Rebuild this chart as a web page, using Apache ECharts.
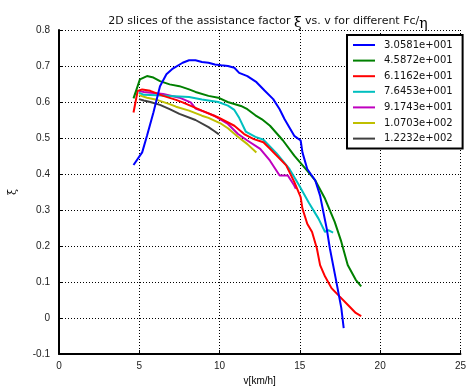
<!DOCTYPE html>
<html>
<head>
<meta charset="utf-8">
<script src="https://cdn.jsdelivr.net/npm/echarts@6/dist/echarts.min.js"></script>
<style>html,body{margin:0;padding:0;background:#fff;}#c{width:469px;height:391px;}</style>
</head>
<body>
<div id="c"></div>
<script>
var legendNames = ['3.0581e+001','4.5872e+001','6.1162e+001','7.6453e+001','9.1743e+001','1.0703e+002','1.2232e+002'];
var colors = ['#0000ff','#008000','#ff0000','#00bfbf','#bf00bf','#bfbf00','#404040'];
var xTicks = [0,5,10,15,20,25];
var yTicks = [-0.1,0,0.1,0.2,0.3,0.4,0.5,0.6,0.7,0.8];

var s1 = [[4.64,0.425],[5.18,0.46],[5.48,0.506],[5.88,0.571],[6.29,0.644],[6.69,0.677],[7.09,0.693],[7.7,0.709],[8.1,0.716],[8.5,0.716],[8.9,0.711],[9.31,0.709],[9.71,0.704],[10.1,0.702],[10.52,0.70],[10.92,0.695],[11.22,0.681],[11.73,0.672],[12.3,0.655],[12.8,0.632],[13.34,0.608],[13.74,0.58],[14.05,0.552],[14.65,0.506],[15.05,0.493],[15.16,0.46],[15.46,0.414],[15.96,0.382],[16.26,0.34],[16.46,0.295],[16.67,0.249],[16.87,0.193],[17.27,0.101],[17.58,0.028],[17.73,-0.028]];
var s2 = [[4.64,0.61],[5.04,0.663],[5.48,0.672],[5.88,0.668],[6.29,0.658],[6.89,0.649],[7.5,0.644],[8.1,0.635],[8.5,0.628],[9.31,0.617],[9.92,0.612],[10.5,0.60],[11.33,0.589],[11.73,0.58],[12.23,0.563],[12.64,0.552],[13.14,0.534],[13.95,0.493],[14.65,0.451],[15.36,0.414],[15.96,0.382],[16.57,0.331],[17.17,0.267],[17.58,0.212],[17.98,0.147],[18.48,0.106],[18.82,0.088]];
var s3 = [[4.64,0.571],[4.9,0.631],[5.18,0.635],[5.68,0.631],[6.49,0.617],[7.29,0.606],[7.7,0.599],[8.9,0.576],[9.92,0.557],[10.92,0.534],[11.53,0.511],[12.13,0.497],[12.73,0.488],[13.14,0.47],[14.15,0.424],[14.65,0.378],[15.05,0.336],[15.16,0.304],[15.46,0.262],[15.76,0.239],[16.06,0.193],[16.26,0.147],[16.57,0.115],[16.97,0.083],[17.47,0.06],[17.98,0.037],[18.48,0.014],[18.82,0.005]];
var s4 = [[4.98,0.626],[5.28,0.62],[6.09,0.619],[6.89,0.617],[8.1,0.614],[8.9,0.607],[9.92,0.6],[10.52,0.59],[10.92,0.578],[11.22,0.556],[11.63,0.518],[12.23,0.503],[12.73,0.495],[13.54,0.458],[14.35,0.414],[14.96,0.368],[15.56,0.32],[16.16,0.276],[16.57,0.239],[16.77,0.244],[17.07,0.237]];
var s5 = [[4.98,0.631],[5.28,0.628],[6.49,0.622],[7.5,0.612],[8.2,0.599],[8.5,0.582],[9.11,0.572],[9.71,0.561],[10.52,0.539],[11.15,0.511],[11.73,0.493],[12.53,0.47],[13.14,0.437],[13.74,0.396],[14.25,0.396],[14.65,0.368],[14.75,0.359]];
var s6 = [[4.98,0.619],[5.48,0.612],[6.09,0.606],[6.89,0.594],[7.29,0.587],[8.1,0.576],[8.9,0.562],[9.31,0.556],[10.12,0.539],[10.52,0.527],[11.12,0.504],[11.73,0.483],[12.29,0.46]];
var s7 = [[4.98,0.608],[5.28,0.604],[5.68,0.60],[6.29,0.592],[6.89,0.58],[7.5,0.567],[8.5,0.55],[9.31,0.53],[9.71,0.518],[9.96,0.51]];
var seriesData = [s1,s2,s3,s4,s5,s6,s7];

var FONT = 'Liberation Sans, Arial, sans-serif';
var WIDE = 'DejaVu Sans, sans-serif';
var chart = echarts.init(document.getElementById('c'), null, {renderer:'canvas'});
var series = seriesData.map(function(d,i){
  return {
    name: legendNames[i], type:'line', data:d, showSymbol:false, symbol:'none',
    lineStyle:{color:colors[i], width:2}, itemStyle:{color:colors[i]},
    animation:false, z: 10 - i
  };
});
chart.setOption({
  backgroundColor:'#fff',
  animation:false,
  title:{
    text:'2D slices of the assistance factor {g|ξ} vs. v for different Fc/{h|η}',
    left:263, top:6, textAlign:'center',
    textStyle:{fontFamily:WIDE, fontSize:11, fontWeight:'normal', color:'#111',
      rich:{g:{fontSize:14, fontFamily:'DejaVu Serif, serif', color:'#000', padding:[4,0,0,0]},
            h:{fontSize:14, fontFamily:'DejaVu Serif, serif', color:'#000', padding:[6,0,0,0]}}}
  },
  legend:{
    orient:'vertical', left:347, top:35,
    padding:[4,10,4,6], itemGap:3.6, itemWidth:22, itemHeight:2,
    borderColor:'#000', borderWidth:2, backgroundColor:'#fff',
    textStyle:{fontFamily:WIDE, fontSize:10, color:'#111', lineHeight:12, padding:[0,0,0,4]},
    data: legendNames.map(function(n){return {name:n, icon:'rect'};})
  },
  grid:{left:56, top:30, width:414, height:326, containLabel:false},
  xAxis:{
    type:'value', min:0, max:25, interval:5,
    name:'v[km/h]', nameLocation:'middle', nameGap:22,
    nameTextStyle:{fontFamily:FONT, fontSize:10, color:'#000'},
    axisLine:{show:true, onZero:false, lineStyle:{color:'#000', width:2}},
    axisTick:{show:true, inside:true, length:4, lineStyle:{color:'#000'}},
    axisLabel:{fontFamily:FONT, fontSize:10, color:'#222', margin:7,
      formatter:function(v){return xTicks.indexOf(v)>=0 ? String(v) : '';}},
    splitLine:{show:true, lineStyle:{color:'#000', width:1, type:[1,2]}}
  },
  yAxis:{
    type:'value', min:-0.1, max:0.8, interval:0.1,
    name:'ξ', nameLocation:'middle', nameGap:40, nameRotate:90,
    nameTextStyle:{fontFamily:'DejaVu Serif, serif', fontSize:11, color:'#000'},
    axisLine:{show:true, onZero:false, lineStyle:{color:'#000', width:2}},
    axisTick:{show:true, inside:true, length:4, lineStyle:{color:'#000'}},
    axisLabel:{fontFamily:FONT, fontSize:10, color:'#222', margin:9,
      formatter:function(v){
        var r = Math.round(v*10)/10;
        for (var i=0;i<yTicks.length;i++){ if (Math.abs(yTicks[i]-r)<1e-9) return r===0?'0':String(r); }
        return '';
      }},
    splitLine:{show:true, lineStyle:{color:'#000', width:1, type:[1,2]}}
  },
  series: series
});
</script>
</body>
</html>
